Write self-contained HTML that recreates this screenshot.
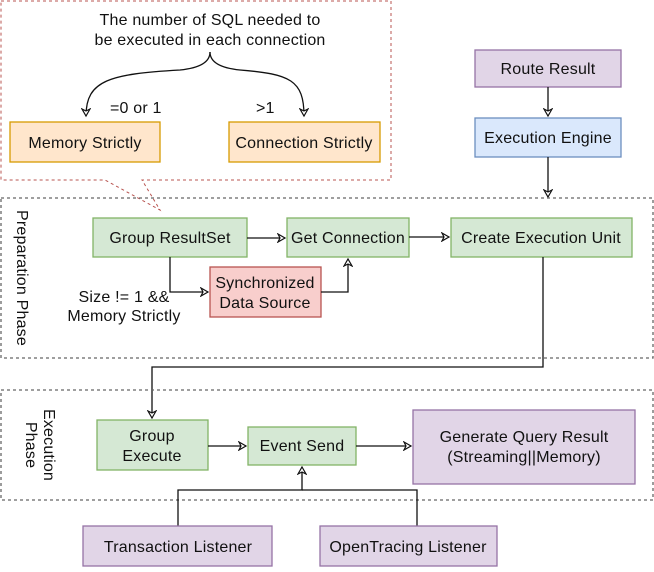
<!DOCTYPE html>
<html><head><meta charset="utf-8"><style>
html,body{margin:0;padding:0;background:#fff}
text{font-family:"Liberation Sans",sans-serif;font-size:16px;letter-spacing:0.2px;fill:#111}
rect{stroke-width:1.3}
</style></head><body>
<svg width="654" height="567" viewBox="0 0 654 567" xmlns="http://www.w3.org/2000/svg">
<defs>
<marker id="a" markerWidth="10" markerHeight="10" refX="8" refY="5" orient="auto" markerUnits="userSpaceOnUse">
<path d="M1,1 L8,5 L1,9 L3,5 Z" fill="#fff" stroke="#111" stroke-width="1.2"/></marker>
</defs>
<path d="M1,1 H391 V180 H142 L160,210 L105,180 H1 Z" fill="none" stroke="#b85450" stroke-width="1" stroke-dasharray="3,3"/>
<text x="210" y="25" text-anchor="middle">The number of SQL needed to</text>
<text x="210" y="45" text-anchor="middle">be executed in each connection</text>
<path d="M210,52 C210,62 200,68 180,70 C110,74 86,80 86,116" fill="none" stroke="#111" stroke-width="1.3" marker-end="url(#a)"/>
<path d="M210,52 C210,62 220,68 240,70 C290,74 304,80 304,116" fill="none" stroke="#111" stroke-width="1.3" marker-end="url(#a)"/>
<text x="110" y="113">=0 or 1</text>
<text x="256" y="113">&gt;1</text>
<rect x="10" y="122" width="150" height="40" fill="#ffe6cc" stroke="#d79b00"/>
<text x="85" y="148" text-anchor="middle">Memory Strictly</text>
<rect x="229" y="122" width="151" height="40" fill="#ffe6cc" stroke="#d79b00"/>
<text x="304" y="148" text-anchor="middle">Connection Strictly</text>
<rect x="475" y="50" width="146" height="37" fill="#e1d5e7" stroke="#9673a6"/>
<text x="548" y="74" text-anchor="middle">Route Result</text>
<path d="M548,87 V116" stroke="#111" stroke-width="1.3" marker-end="url(#a)"/>
<rect x="475" y="118" width="146" height="39" fill="#dae8fc" stroke="#6c8ebf"/>
<text x="548" y="143" text-anchor="middle">Execution Engine</text>
<path d="M548,157 V197" stroke="#111" stroke-width="1.3" marker-end="url(#a)"/>
<rect x="1" y="198" width="652" height="160" fill="none" stroke="#666" stroke-width="1" stroke-dasharray="3,3"/>
<text transform="translate(17,278) rotate(90)" text-anchor="middle">Preparation Phase</text>
<rect x="93" y="218" width="154" height="39" fill="#d5e8d4" stroke="#82b366"/>
<text x="170" y="243" text-anchor="middle">Group ResultSet</text>
<rect x="287" y="218" width="122" height="39" fill="#d5e8d4" stroke="#82b366"/>
<text x="348" y="243" text-anchor="middle">Get Connection</text>
<rect x="451" y="218" width="181" height="39" fill="#d5e8d4" stroke="#82b366"/>
<text x="541" y="243" text-anchor="middle">Create Execution Unit</text>
<rect x="210" y="267" width="111" height="50" fill="#f8cecc" stroke="#b85450"/>
<text x="265" y="288" text-anchor="middle">Synchronized</text>
<text x="265" y="308" text-anchor="middle">Data Source</text>
<path d="M247,238 H285" stroke="#111" stroke-width="1.3" marker-end="url(#a)"/>
<path d="M409,237 H449" stroke="#111" stroke-width="1.3" marker-end="url(#a)"/>
<path d="M170,257 V292 H208" fill="none" stroke="#111" stroke-width="1.3" marker-end="url(#a)"/>
<path d="M321,292 H348 V259" fill="none" stroke="#111" stroke-width="1.3" marker-end="url(#a)"/>
<text x="124" y="302" text-anchor="middle">Size != 1 &amp;&amp;</text>
<text x="124" y="321" text-anchor="middle">Memory Strictly</text>
<path d="M543,257 V367 H152 V418" fill="none" stroke="#111" stroke-width="1.3" marker-end="url(#a)"/>
<rect x="1" y="390" width="652" height="110" fill="none" stroke="#666" stroke-width="1" stroke-dasharray="3,3"/>
<text transform="translate(40,445) rotate(90)" text-anchor="middle"><tspan x="0" dy="-4">Execution</tspan><tspan x="0" dy="18">Phase</tspan></text>
<rect x="97" y="420" width="111" height="50" fill="#d5e8d4" stroke="#82b366"/>
<text x="152" y="441" text-anchor="middle">Group</text>
<text x="152" y="461" text-anchor="middle">Execute</text>
<rect x="248" y="427" width="108" height="38" fill="#d5e8d4" stroke="#82b366"/>
<text x="302" y="451" text-anchor="middle">Event Send</text>
<rect x="413" y="410" width="222" height="74" fill="#e1d5e7" stroke="#9673a6"/>
<text x="524" y="442" text-anchor="middle">Generate Query Result</text>
<text x="524" y="462" text-anchor="middle">(Streaming||Memory)</text>
<path d="M208,446 H246" stroke="#111" stroke-width="1.3" marker-end="url(#a)"/>
<path d="M356,446 H411" stroke="#111" stroke-width="1.3" marker-end="url(#a)"/>
<path d="M178,526 V490 H302 V467" fill="none" stroke="#111" stroke-width="1.3" marker-end="url(#a)"/>
<path d="M417,526 V490 H302" fill="none" stroke="#111" stroke-width="1.3"/>
<rect x="83" y="526" width="189" height="40" fill="#e1d5e7" stroke="#9673a6"/>
<text x="178" y="552" text-anchor="middle">Transaction Listener</text>
<rect x="320" y="526" width="177" height="40" fill="#e1d5e7" stroke="#9673a6"/>
<text x="408" y="552" text-anchor="middle">OpenTracing Listener</text>
</svg>
</body></html>
